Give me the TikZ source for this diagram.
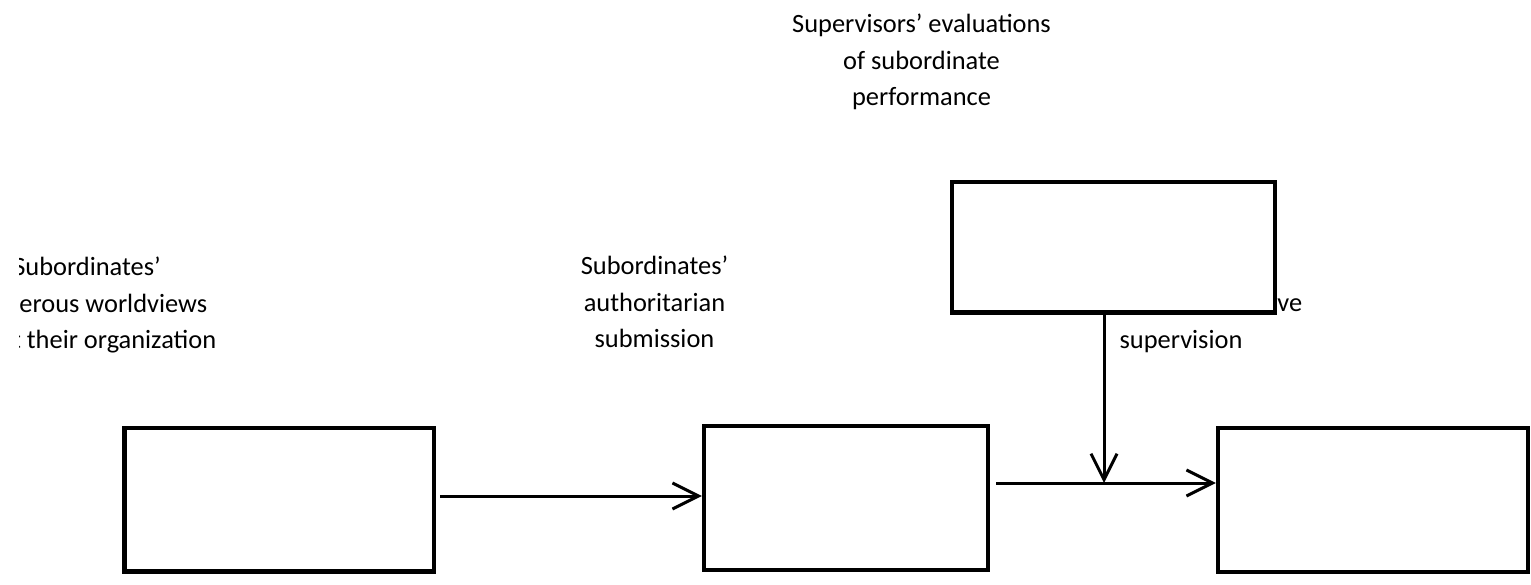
\documentclass[tikz,border=0pt]{standalone}
\usepackage{fontspec}
\setmainfont{Carlito}
\usetikzlibrary{positioning,arrows.meta}

\begin{document}
\begin{tikzpicture}[x=0.5pt,y=-0.5pt,
box/.style ={rectangle ,draw ,line width=2.2pt ,fill=white ,inner sep=0pt},
lbl/.style ={align=center ,font=\fontsize{13.2}{18.2}\selectfont ,inner sep=0pt},
link/.style ={-{Straight Barb[length=13pt,width=13pt]} ,line width=1.5pt}]

\useasboundingbox (0,0) rectangle (1531,584);

\node[lbl] (perf) at (921.5,62) {Supervisors' evaluations\\of subordinate\\performance};
\node[lbl] (subm) at (654.5,302) {Subordinates'\\authoritarian\\submission};
\begin{scope}
\clip (19,200) rectangle (400,400);
\node[lbl] (dang) at (87,305) {Subordinates'\\dangerous worldviews\\about their organization};
\end{scope}
\node[lbl,anchor=base west] (abuA) at (1277,311) {ve};
\node[lbl,anchor=base] (abuB) at (1181,348) {supervision};

\node[box,minimum width=154.75pt,minimum height=71.75pt] (A) at (279.25,499.75) {};
\node[box,minimum width=142pt,minimum height=72pt] (B) at (846,498) {};
\node[box,minimum width=155pt,minimum height=72pt] (C) at (1373,500) {};
\node[box,minimum width=161.5pt,minimum height=65.25pt] (D) at (1113.5,247.25) {};

\coordinate (join) at (1104,483);

\draw[link,shorten <=2pt] ([yshift=1.875pt]A.east) -- ([yshift=1pt]B.west);
\draw[link,shorten <=3pt] ([yshift=7.5pt]B.east) -- ([yshift=8.5pt]C.west);
\draw[link] (D.south -| join) -- (join);
\end{tikzpicture}
\end{document}
